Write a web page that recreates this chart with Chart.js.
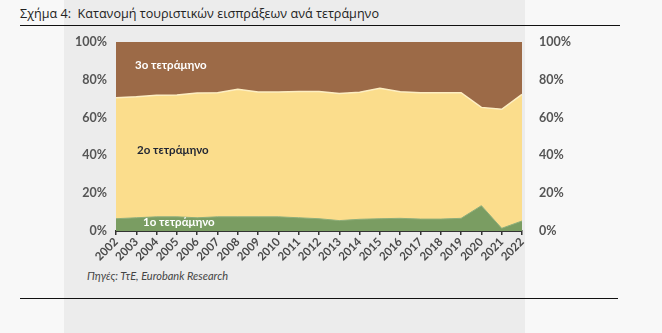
<!DOCTYPE html>
<html>
<head>
<meta charset="utf-8">
<script src="https://cdn.jsdelivr.net/npm/chart.js@4"></script>
<style>
  html, body { margin: 0; padding: 0; }
  body { width: 662px; height: 333px; background: #f8f8f8; position: relative; overflow: hidden; font-family: "Open Sans", sans-serif; }
  #panel { position: absolute; left: 64px; top: 0; width: 461px; height: 333px; background: #ececec; }
  #title { position: absolute; left: 20px; top: 5px; font-size: 12.6px; color: #222; white-space: pre; }
  .rule { position: absolute; left: 20px; height: 1px; background: #111; }
  #source { position: absolute; left: 87px; top: 269px; font-family: Lato, sans-serif; font-style: italic; font-size: 11px; color: #444; }
  #wrap { position: absolute; left: 0; top: 0; width: 662px; height: 333px; }
</style>
</head>
<body>
<div id="panel"></div>
<div id="title">Σχήμα 4:  Κατανομή τουριστικών εισπράξεων ανά τετράμηνο</div>
<div class="rule" style="top:25px;width:600px"></div>
<div class="rule" style="top:298px;width:598px"></div>
<div id="source">Πηγές: ΤτΕ, Eurobank Research</div>
<div id="wrap"><canvas id="myChart"></canvas></div>
<script>
var years = ['2002','2003','2004','2005','2006','2007','2008','2009','2010','2011','2012',
             '2013','2014','2015','2016','2017','2018','2019','2020','2021','2022'];
// share of annual receipts per four-month period (%)
var q1 = [6.5, 7, 7.5, 7.5, 7, 7.5, 7.5, 7.5, 7.5, 7, 6.5, 5.5, 6.2, 6.5, 6.7, 6.3, 6.3, 6.7, 13.4, 1.4, 5.3];
var q2 = [64, 64, 64.3, 64.5, 66, 65.7, 67.5, 66, 66, 66.8, 67.3, 67.3, 67.2, 69, 67, 66.9, 66.9, 66.5, 52, 63, 67];
var q3 = [29.5, 29, 28.2, 28, 27, 26.8, 25, 26.5, 26.5, 26.2, 26.2, 27.2, 26.6, 24.5, 26.3, 26.8, 26.8, 26.8, 34.6, 35.6, 27.7];
var seriesNames = ['1ο τετράμηνο', '2ο τετράμηνο', '3ο τετράμηνο'];

// names written inside each band
var bandLabels = {
    id: 'bandLabels',
    afterDatasetsDraw: function (chart) {
        var ctx = chart.ctx;
        var a = chart.chartArea;
        var y = chart.scales.y;
        ctx.save();
        ctx.font = 'bold 11.5px Lato, sans-serif';
        ctx.textBaseline = 'middle';
        ctx.textAlign = 'left';
        ctx.fillStyle = '#ffffff';
        ctx.fillText(seriesNames[2], a.left + 19, y.getPixelForValue(87.5));
        ctx.fillStyle = '#1f2433';
        ctx.fillText(seriesNames[1], a.left + 21, y.getPixelForValue(42.5));
        ctx.fillStyle = '#ffffff';
        ctx.fillText(seriesNames[0], a.left + 27, y.getPixelForValue(4.6));
        ctx.restore();
    }
};

const ctx = document.getElementById('myChart').getContext('2d');
window.chart = new Chart(ctx, {
    type: 'line',
    data: {
        labels: years,
        datasets: [
            { label: seriesNames[0], data: q1, backgroundColor: '#7a9d62', borderColor: '#8fae78', borderWidth: 1, fill: 'origin' },
            { label: seriesNames[1], data: q2, backgroundColor: '#fbdd8c', borderColor: '#fdeec2', borderWidth: 1.5, fill: '-1' },
            { label: seriesNames[2], data: q3, backgroundColor: '#9c6a47', borderColor: '#9c6a47', borderWidth: 1, fill: '-1' }
        ]
    },
    options: {
        responsive: true,
        maintainAspectRatio: false,
        animation: false,
        elements: { point: { radius: 0 }, line: { tension: 0 } },
        layout: { padding: { left: 60, right: 80, top: 42, bottom: 0 } },
        plugins: { legend: { display: false }, tooltip: { enabled: false } },
        scales: {
            x: {
                offset: false,
                grid: { drawOnChartArea: false, drawTicks: true, tickLength: 4, color: '#333', lineWidth: 1.5 },
                border: { color: '#333', width: 2 },
                ticks: { minRotation: 45, maxRotation: 45, autoSkip: false, padding: 0, color: '#4a4a4a',
                         font: { family: 'Lato, sans-serif', size: 11.5, weight: 'bold' } },
                afterFit: function (s) { s.height = 102; }
            },
            y: {
                stacked: true,
                min: 0, max: 100,
                z: 1,
                grid: { color: 'rgba(120,90,40,0.08)', drawTicks: false, lineWidth: 1 },
                border: { display: false },
                ticks: { stepSize: 20, padding: 9, color: '#555',
                         font: { family: 'Lato, sans-serif', size: 12.5, weight: 'bold' },
                         callback: function (v) { return v + '%'; } },
                afterFit: function (s) { s.width = 56; }
            },
            y2: {
                position: 'right',
                min: 0, max: 100,
                grid: { display: false },
                border: { display: false },
                ticks: { stepSize: 20, padding: 9, color: '#555',
                         font: { family: 'Lato, sans-serif', size: 12.5, weight: 'bold' },
                         callback: function (v) { return v + '%'; } },
                afterFit: function (s) { s.width = 60; }
            }
        }
    },
    plugins: [bandLabels]
});
</script>
</body>
</html>
